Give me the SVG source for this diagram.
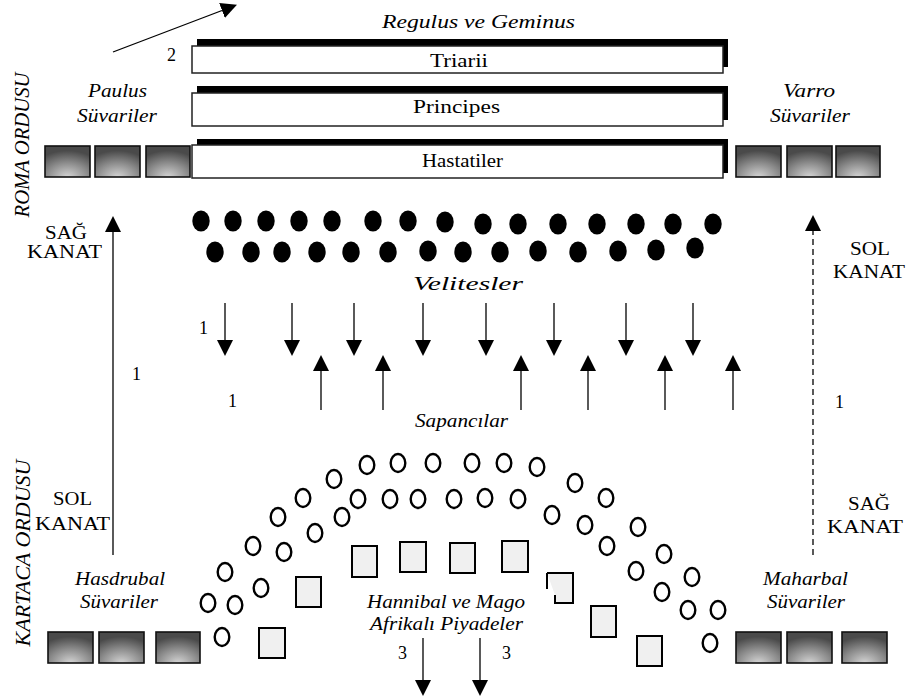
<svg xmlns="http://www.w3.org/2000/svg" width="915" height="700" viewBox="0 0 915 700">
<style>
text{font-family:"Liberation Serif","Times New Roman",Times,Tinos,"Nimbus Roman","Noto Serif","DejaVu Serif",FreeSerif,serif;font-size:18px;fill:#000}
.it{font-style:italic}
.shadow{fill:#000}
.box{fill:#fff;stroke:#222;stroke-width:1.5}
.cav{fill:url(#cavg);stroke:#111;stroke-width:1.6}
.vel{fill:#000}
.sl{fill:none;stroke:#000;stroke-width:2.4}
.inf{fill:#f0f0f0;stroke:#000;stroke-width:2}
.ln{fill:none;stroke:#000;stroke-width:1.3}
.dash{stroke-dasharray:6 4}
</style>
<defs>
<radialGradient id="cavg" cx="50%" cy="100%" r="85%" fx="50%" fy="100%">
<stop offset="0" stop-color="#d4d4d4"/>
<stop offset="0.55" stop-color="#8a8a8a"/>
<stop offset="1" stop-color="#4a4a4a"/>
</radialGradient>
<marker id="ah" markerUnits="userSpaceOnUse" markerWidth="16" markerHeight="16" viewBox="0 0 15 15" refX="0" refY="7.5" orient="auto">
<path d="M0,0 L15,7.5 L0,15 Z" fill="#000"/>
</marker>
</defs>

<text class="it" x="382" y="28" textLength="193" lengthAdjust="spacingAndGlyphs">Regulus ve Geminus</text>
<text x="167" y="61">2</text>

<g id="triarii">
<rect class="shadow" x="197" y="39" width="531" height="28"/>
<rect class="box" x="192" y="46" width="531" height="27"/>
<text x="430" y="67" textLength="58" lengthAdjust="spacingAndGlyphs">Triarii</text>
</g>
<g id="principes">
<rect class="shadow" x="197" y="86" width="531" height="34"/>
<rect class="box" x="192" y="93" width="531" height="33"/>
<text x="413" y="113" textLength="87" lengthAdjust="spacingAndGlyphs">Principes</text>
</g>
<g id="hastatiler">
<rect class="shadow" x="197" y="139" width="531" height="34"/>
<rect class="box" x="192" y="145" width="531" height="33"/>
<text x="422" y="167" textLength="81" lengthAdjust="spacingAndGlyphs">Hastatiler</text>
</g>

<g id="paulus">
<text class="it" x="88" y="97" textLength="59" lengthAdjust="spacingAndGlyphs">Paulus</text>
<text class="it" x="77" y="122" textLength="80" lengthAdjust="spacingAndGlyphs">Süvariler</text>
<rect class="cav" x="45" y="146" width="45" height="31"/>
<rect class="cav" x="95" y="146" width="45" height="31"/>
<rect class="cav" x="146" y="146" width="44" height="31"/>
</g>
<g id="varro">
<text class="it" x="783" y="97" textLength="52" lengthAdjust="spacingAndGlyphs">Varro</text>
<text class="it" x="770" y="122" textLength="80" lengthAdjust="spacingAndGlyphs">Süvariler</text>
<rect class="cav" x="736" y="146" width="45" height="31"/>
<rect class="cav" x="787" y="146" width="45" height="31"/>
<rect class="cav" x="836" y="146" width="44" height="31"/>
</g>

<text class="it" transform="translate(29,145) rotate(-90)" text-anchor="middle" style="font-size:22px" textLength="145" lengthAdjust="spacingAndGlyphs">ROMA ORDUSU</text>
<text class="it" transform="translate(30,553) rotate(-90)" text-anchor="middle" style="font-size:22px" textLength="187" lengthAdjust="spacingAndGlyphs">KARTACA ORDUSU</text>

<g id="sag-kanat-roma">
<text x="45" y="239" textLength="42" lengthAdjust="spacingAndGlyphs">SAĞ</text>
<text x="27" y="258" textLength="75" lengthAdjust="spacingAndGlyphs">KANAT</text>
</g>
<g id="sol-kanat-roma">
<text x="850" y="255" textLength="40" lengthAdjust="spacingAndGlyphs">SOL</text>
<text x="833" y="278" textLength="72" lengthAdjust="spacingAndGlyphs">KANAT</text>
</g>
<g id="sol-kanat-kartaca">
<text x="53" y="505" textLength="39" lengthAdjust="spacingAndGlyphs">SOL</text>
<text x="35" y="530" textLength="75" lengthAdjust="spacingAndGlyphs">KANAT</text>
</g>
<g id="sag-kanat-kartaca">
<text x="848" y="510" textLength="42" lengthAdjust="spacingAndGlyphs">SAĞ</text>
<text x="827" y="533" textLength="76" lengthAdjust="spacingAndGlyphs">KANAT</text>
</g>

<g id="velites">
<ellipse class="vel" cx="201" cy="221" rx="8.7" ry="10.5"/>
<ellipse class="vel" cx="233" cy="221" rx="8.7" ry="10.5"/>
<ellipse class="vel" cx="266" cy="221" rx="8.7" ry="10.5"/>
<ellipse class="vel" cx="299" cy="221" rx="8.7" ry="10.5"/>
<ellipse class="vel" cx="332" cy="221" rx="8.7" ry="10.5"/>
<ellipse class="vel" cx="373" cy="221" rx="8.7" ry="10.5"/>
<ellipse class="vel" cx="408" cy="221" rx="8.7" ry="10.5"/>
<ellipse class="vel" cx="445" cy="222" rx="8.7" ry="10.5"/>
<ellipse class="vel" cx="483" cy="224" rx="8.7" ry="10.5"/>
<ellipse class="vel" cx="518" cy="224" rx="8.7" ry="10.5"/>
<ellipse class="vel" cx="558" cy="224" rx="8.7" ry="10.5"/>
<ellipse class="vel" cx="597" cy="224" rx="8.7" ry="10.5"/>
<ellipse class="vel" cx="636" cy="224" rx="8.7" ry="10.5"/>
<ellipse class="vel" cx="673" cy="224" rx="8.7" ry="10.5"/>
<ellipse class="vel" cx="713" cy="224" rx="8.7" ry="10.5"/>
<ellipse class="vel" cx="215" cy="252" rx="8.7" ry="10.5"/>
<ellipse class="vel" cx="251" cy="252" rx="8.7" ry="10.5"/>
<ellipse class="vel" cx="282" cy="252" rx="8.7" ry="10.5"/>
<ellipse class="vel" cx="317" cy="252" rx="8.7" ry="10.5"/>
<ellipse class="vel" cx="351" cy="252" rx="8.7" ry="10.5"/>
<ellipse class="vel" cx="388" cy="252" rx="8.7" ry="10.5"/>
<ellipse class="vel" cx="428" cy="251" rx="8.7" ry="10.5"/>
<ellipse class="vel" cx="463" cy="252" rx="8.7" ry="10.5"/>
<ellipse class="vel" cx="500" cy="252" rx="8.7" ry="10.5"/>
<ellipse class="vel" cx="538" cy="251" rx="8.7" ry="10.5"/>
<ellipse class="vel" cx="578" cy="252" rx="8.7" ry="10.5"/>
<ellipse class="vel" cx="618" cy="251" rx="8.7" ry="10.5"/>
<ellipse class="vel" cx="656" cy="250" rx="8.7" ry="10.5"/>
<ellipse class="vel" cx="695" cy="248" rx="8.7" ry="10.5"/>
<text class="it" x="413" y="290" textLength="110" lengthAdjust="spacingAndGlyphs">Velitesler</text>
</g>

<g id="sapancilar">
<text class="it" x="415" y="427" textLength="93" lengthAdjust="spacingAndGlyphs">Sapancılar</text>
<ellipse class="sl" cx="367" cy="465" rx="7.3" ry="9"/>
<ellipse class="sl" cx="398" cy="463" rx="7.3" ry="9"/>
<ellipse class="sl" cx="433" cy="463" rx="7.3" ry="9"/>
<ellipse class="sl" cx="472" cy="463" rx="7.3" ry="9"/>
<ellipse class="sl" cx="504" cy="463" rx="7.3" ry="9"/>
<ellipse class="sl" cx="537" cy="467" rx="7.3" ry="9"/>
<ellipse class="sl" cx="334" cy="479" rx="7.3" ry="9"/>
<ellipse class="sl" cx="303" cy="498" rx="7.3" ry="9"/>
<ellipse class="sl" cx="278" cy="517" rx="7.3" ry="9"/>
<ellipse class="sl" cx="253" cy="546" rx="7.3" ry="9"/>
<ellipse class="sl" cx="225" cy="572" rx="7.3" ry="9"/>
<ellipse class="sl" cx="208" cy="603" rx="7.3" ry="9"/>
<ellipse class="sl" cx="575" cy="483" rx="7.3" ry="9"/>
<ellipse class="sl" cx="606" cy="498" rx="7.3" ry="9"/>
<ellipse class="sl" cx="638" cy="527" rx="7.3" ry="9"/>
<ellipse class="sl" cx="664" cy="554" rx="7.3" ry="9"/>
<ellipse class="sl" cx="692" cy="577" rx="7.3" ry="9"/>
<ellipse class="sl" cx="718" cy="610" rx="7.3" ry="9"/>
<ellipse class="sl" cx="358" cy="499" rx="7.3" ry="9"/>
<ellipse class="sl" cx="390" cy="499" rx="7.3" ry="9"/>
<ellipse class="sl" cx="418" cy="499" rx="7.3" ry="9"/>
<ellipse class="sl" cx="454" cy="499" rx="7.3" ry="9"/>
<ellipse class="sl" cx="485" cy="498" rx="7.3" ry="9"/>
<ellipse class="sl" cx="518" cy="499" rx="7.3" ry="9"/>
<ellipse class="sl" cx="342" cy="517" rx="7.3" ry="9"/>
<ellipse class="sl" cx="315" cy="533" rx="7.3" ry="9"/>
<ellipse class="sl" cx="284" cy="552" rx="7.3" ry="9"/>
<ellipse class="sl" cx="261" cy="588" rx="7.3" ry="9"/>
<ellipse class="sl" cx="235" cy="605" rx="7.3" ry="9"/>
<ellipse class="sl" cx="222" cy="637" rx="7.3" ry="9"/>
<ellipse class="sl" cx="552" cy="515" rx="7.3" ry="9"/>
<ellipse class="sl" cx="585" cy="525" rx="7.3" ry="9"/>
<ellipse class="sl" cx="607" cy="546" rx="7.3" ry="9"/>
<ellipse class="sl" cx="636" cy="571" rx="7.3" ry="9"/>
<ellipse class="sl" cx="662" cy="592" rx="7.3" ry="9"/>
<ellipse class="sl" cx="688" cy="610" rx="7.3" ry="9"/>
<ellipse class="sl" cx="710" cy="643" rx="7.3" ry="9"/>
</g>

<g id="afrikali-piyadeler">
<rect class="inf" x="352" y="546" width="25" height="31"/>
<rect class="inf" x="400" y="542" width="26" height="30"/>
<rect class="inf" x="450" y="543" width="25" height="30"/>
<rect class="inf" x="502" y="541" width="26" height="31"/>
<rect class="inf" x="296" y="577" width="25" height="30"/>
<rect class="inf" x="259" y="628" width="26" height="30"/>
<path class="inf" d="M547,573 H573 V603 H555 V595"/>
<path class="inf" d="M547,589 V573" style="fill:none"/>
<rect class="inf" x="591" y="606" width="25" height="31"/>
<rect class="inf" x="637" y="636" width="25" height="30"/>
<text class="it" x="367" y="608" textLength="158" lengthAdjust="spacingAndGlyphs">Hannibal ve Mago</text>
<text class="it" x="370" y="630" textLength="153" lengthAdjust="spacingAndGlyphs">Afrikalı Piyadeler</text>
<text x="398" y="659">3</text>
<text x="502" y="659">3</text>
</g>

<g id="hasdrubal">
<text class="it" x="75" y="585" textLength="90" lengthAdjust="spacingAndGlyphs">Hasdrubal</text>
<text class="it" x="80" y="608" textLength="78" lengthAdjust="spacingAndGlyphs">Süvariler</text>
<rect class="cav" x="48" y="632" width="45" height="31"/>
<rect class="cav" x="99" y="632" width="45" height="31"/>
<rect class="cav" x="156" y="632" width="44" height="31"/>
</g>
<g id="maharbal">
<text class="it" x="763" y="585" textLength="85" lengthAdjust="spacingAndGlyphs">Maharbal</text>
<text class="it" x="767" y="608" textLength="78" lengthAdjust="spacingAndGlyphs">Süvariler</text>
<rect class="cav" x="736" y="632" width="45" height="31"/>
<rect class="cav" x="787" y="632" width="45" height="31"/>
<rect class="cav" x="842" y="632" width="45" height="31"/>
</g>

<g id="labels-numbers">
<text x="132" y="380">1</text>
<text x="199" y="334">1</text>
<text x="228" y="407">1</text>
<text x="835" y="408">1</text>
</g>

<g id="connectors">
<line class="ln" x1="113" y1="52" x2="222" y2="10.5" marker-end="url(#ah)"/>
<line class="ln" x1="113" y1="555" x2="113" y2="232" marker-end="url(#ah)"/>
<line class="ln dash" x1="813" y1="555" x2="813" y2="231" marker-end="url(#ah)"/>
<line class="ln" x1="225" y1="303" x2="225" y2="340" marker-end="url(#ah)"/>
<line class="ln" x1="292" y1="303" x2="292" y2="340" marker-end="url(#ah)"/>
<line class="ln" x1="354" y1="303" x2="354" y2="340" marker-end="url(#ah)"/>
<line class="ln" x1="423" y1="303" x2="423" y2="340" marker-end="url(#ah)"/>
<line class="ln" x1="486" y1="303" x2="486" y2="340" marker-end="url(#ah)"/>
<line class="ln" x1="554" y1="303" x2="554" y2="340" marker-end="url(#ah)"/>
<line class="ln" x1="626" y1="303" x2="626" y2="340" marker-end="url(#ah)"/>
<line class="ln" x1="693" y1="303" x2="693" y2="340" marker-end="url(#ah)"/>
<line class="ln" x1="321" y1="410" x2="321" y2="371" marker-end="url(#ah)"/>
<line class="ln" x1="383" y1="410" x2="383" y2="371" marker-end="url(#ah)"/>
<line class="ln" x1="521" y1="410" x2="521" y2="371" marker-end="url(#ah)"/>
<line class="ln" x1="588" y1="410" x2="588" y2="371" marker-end="url(#ah)"/>
<line class="ln" x1="665" y1="410" x2="665" y2="371" marker-end="url(#ah)"/>
<line class="ln" x1="733" y1="410" x2="733" y2="371" marker-end="url(#ah)"/>
<line class="ln" x1="423" y1="638" x2="423" y2="680" marker-end="url(#ah)"/>
<line class="ln" x1="480" y1="638" x2="480" y2="680" marker-end="url(#ah)"/>
</g>
</svg>
